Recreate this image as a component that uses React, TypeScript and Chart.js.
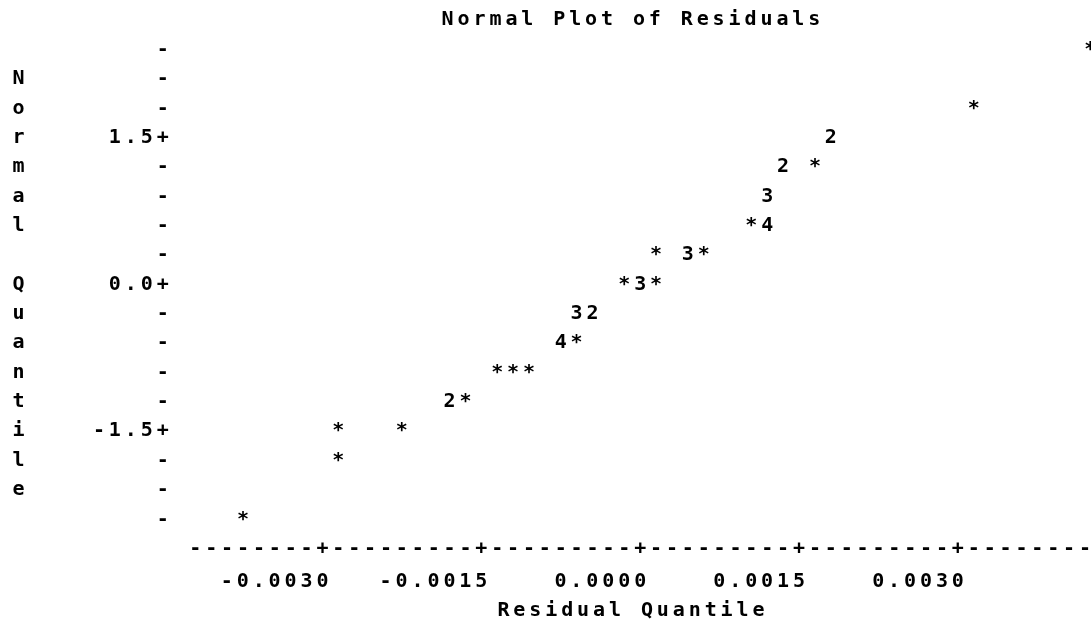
import React, { useEffect, useRef } from "react";
import { Chart, registerables } from "chart.js";

Chart.register(...registerables);

// ---- data ----
const residualQuantile = [
  -0.00375, -0.00285, -0.00285, -0.00225, -0.0018, -0.00165, -0.00135, -0.0012, -0.00105,
  -0.00075, -0.0006, -0.0006, -0.00045, -0.00015, 0, 0.00015, 0.00015, 0.00045, 0.0006,
  0.00105, 0.0012, 0.0012, 0.00135, 0.00165, 0.0018, 0.00315, 0.00425,
];
const normalQuantile = [
  -2.4, -1.8, -1.5, -1.5, -1.2, -1.2, -0.9, -0.9, -0.9,
  -0.6, -0.6, -0.3, -0.3, 0, 0, 0, 0.3, 0.3, 0.3,
  0.6, 0.6, 0.9, 1.2, 1.2, 1.5, 1.8, 2.4,
];
const plotSymbols = [
  "*", "*", "*", "*", "2", "*", "*", "*", "*",
  "4", "*", "3", "2", "*", "3", "*", "*", "3", "*",
  "*", "4", "3", "2", "*", "2", "*", "*",
];

// ---- axes ----
const xTickValues = [-0.003, -0.0015, 0, 0.0015, 0.003];
const xTickLabels = ["-0.0030", "-0.0015", "0.0000", "0.0015", "0.0030"];
const xColumnStep = 0.00015;
const xColumnFirst = -28;
const xColumnLast = 28;
const xColumnMajorEvery = 10;
const xMin = -0.004364;
const xMax = 0.004227;

const yRowValues = [2.4, 2.1, 1.8, 1.5, 1.2, 0.9, 0.6, 0.3, 0, -0.3, -0.6, -0.9, -1.2, -1.5, -1.8, -2.1, -2.4];
const yRowLabels = ["-", "-", "-", "1.5+", "-", "-", "-", "-", "0.0+", "-", "-", "-", "-", "-1.5+", "-", "-", "-"];
const yTitleLetters = ["", "N", "o", "r", "m", "a", "l", "", "Q", "u", "a", "n", "t", "i", "l", "e", ""];
const yMin = -2.55;
const yMax = 2.55;

const titleText = "Normal Plot of Residuals";
const xTitleText = "Residual Quantile";

const FAMILY = "'DejaVu Sans Mono', 'Liberation Mono', monospace";
const FONT = { family: FAMILY, size: 20, weight: "bold" as const, lineHeight: 1.47 };
const LETTER_SPACING = "3.9px";

const xColumns: number[] = [];
const xColumnLabels: string[] = [];
for (let k = xColumnFirst; k <= xColumnLast; k++) {
  xColumns.push(k * xColumnStep);
  xColumnLabels.push(k % xColumnMajorEvery === 0 ? "+" : "-");
}

const spacingPlugin = {
  id: "letterSpacing",
  beforeDraw(chart: any) {
    (chart.ctx as any).letterSpacing = LETTER_SPACING;
  },
};

const symbolPlugin = {
  id: "plotSymbols",
  afterDatasetsDraw(chart: any) {
    const meta = chart.getDatasetMeta(0);
    const ctx = chart.ctx;
    ctx.save();
    (ctx as any).letterSpacing = "0px";
    ctx.font = `bold ${FONT.size}px ${FAMILY}`;
    ctx.fillStyle = "#000";
    ctx.textAlign = "center";
    ctx.textBaseline = "middle";
    meta.data.forEach((el: any, i: number) => {
      ctx.fillText(plotSymbols[i], el.x, el.y);
    });
    ctx.restore();
  },
};

export default function App() {
  const ref = useRef<HTMLCanvasElement | null>(null);

  useEffect(() => {
    if (!ref.current) return;
    const common = {
      grid: { display: false, drawTicks: false, tickLength: 0 },
      border: { display: false },
    };
    const chart = new Chart(ref.current, {
      type: "scatter",
      data: {
        datasets: [
          {
            data: residualQuantile.map((x, i) => ({ x, y: normalQuantile[i] })),
            pointRadius: 0,
            pointHoverRadius: 0,
            showLine: false,
            xAxisID: "x",
            yAxisID: "y",
          },
        ],
      },
      options: {
        animation: false,
        responsive: true,
        maintainAspectRatio: false,
        events: [],
        layout: { padding: { left: 12.5, right: 0, top: 0, bottom: 0 } },
        plugins: {
          legend: { display: false },
          tooltip: { enabled: false },
          title: {
            display: true,
            text: titleText,
            fullSize: false,
            color: "#000",
            font: FONT,
            padding: { top: 4.6, bottom: 1 },
          },
        },
        scales: {
          x: {
            type: "linear",
            position: "bottom",
            min: xMin,
            max: xMax,
            bounds: "data",
            weight: 0,
            ...common,
            afterBuildTicks: (s: any) => {
              s.ticks = xColumns.map((v) => ({ value: v }));
            },
            afterFit: (s: any) => {
              s.height = 30;
            },
            ticks: {
              autoSkip: false,
              maxRotation: 0,
              minRotation: 0,
              padding: 0,
              labelOffset: 1.95,
              color: "#000",
              font: FONT,
              callback: (_v: any, i: number) => xColumnLabels[i],
            },
          },
          xNum: {
            type: "linear",
            position: "bottom",
            min: xMin,
            max: xMax,
            bounds: "data",
            weight: 10,
            ...common,
            afterBuildTicks: (s: any) => {
              s.ticks = xTickValues.map((v) => ({ value: v }));
            },
            afterFit: (s: any) => {
              s.height = 63;
            },
            ticks: {
              autoSkip: false,
              maxRotation: 0,
              minRotation: 0,
              padding: 3.3,
              align: "end",
              labelOffset: 9.9,
              color: "#000",
              font: FONT,
              callback: (_v: any, i: number) => xTickLabels[i],
            },
            title: {
              display: true,
              text: xTitleText,
              color: "#000",
              font: FONT,
              padding: { top: 0, bottom: 1.3 },
            },
          },
          y: {
            type: "linear",
            position: "left",
            min: yMin,
            max: yMax,
            bounds: "data",
            weight: 0,
            ...common,
            afterBuildTicks: (s: any) => {
              s.ticks = yRowValues.map((v) => ({ value: v }));
            },
            afterFit: (s: any) => {
              s.width = 125.5;
            },
            ticks: {
              autoSkip: false,
              padding: 5.4,
              color: "#000",
              font: FONT,
              callback: (_v: any, i: number) => yRowLabels[i],
            },
          },
          yTitle: {
            type: "linear",
            position: "left",
            min: yMin,
            max: yMax,
            bounds: "data",
            weight: 10,
            ...common,
            afterBuildTicks: (s: any) => {
              s.ticks = yRowValues.map((v) => ({ value: v }));
            },
            afterFit: (s: any) => {
              s.width = 40;
            },
            ticks: {
              autoSkip: false,
              padding: 0,
              crossAlign: "far",
              color: "#000",
              font: FONT,
              callback: (_v: any, i: number) => yTitleLetters[i],
            },
          },
        },
      } as any,
      plugins: [spacingPlugin, symbolPlugin],
    });
    return () => chart.destroy();
  }, []);

  return (
    <div style={{ position: "fixed", left: 0, top: 0, width: 1091, height: 627, background: "#fff" }}>
      <canvas ref={ref} />
    </div>
  );
}
